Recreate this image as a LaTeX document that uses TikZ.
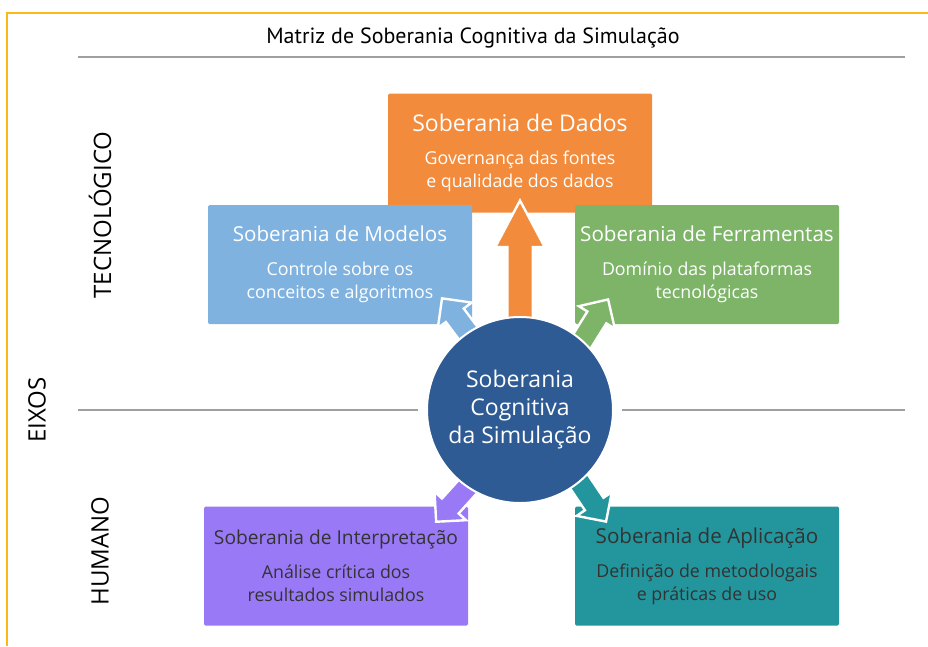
\documentclass[tikz,border=0pt]{standalone}
\usepackage{fontspec}
\setmainfont{Open Sans}
\newfontfamily\titlefont{PT Sans}
\usetikzlibrary{shapes.arrows}

\definecolor{corDados}{HTML}{F28B3B}
\definecolor{corModelos}{HTML}{7FB2DF}
\definecolor{corFerramentas}{HTML}{7DB468}
\definecolor{corInterp}{HTML}{9A79F7}
\definecolor{corAplic}{HTML}{23959D}
\definecolor{corCentro}{HTML}{2F5B95}
\definecolor{textoEscuro}{HTML}{333333}
\definecolor{moldura}{HTML}{FBB917}

\begin{document}
\begin{tikzpicture}[x=1pt, y=-1pt]

    \tikzset{%
    soberania/.style={
        rectangle,
        rounded corners=1.5pt,
        minimum width=264pt,
        minimum height=119pt,
        inner sep=0pt,
        align=center,
        text=white,
        font=\fontsize{17.8}{23}\selectfont
        },
    seta/.style={
        single arrow,
        draw=white,
        line width=2.4pt,
        inner sep=11.5pt,
        single arrow head extend=12pt,
        single arrow tip angle=56,
        anchor=tip,
        minimum height=#1
        },
    ponta curta/.style={
        inner sep=10pt,
        single arrow head extend=10pt,
        single arrow tip angle=90
        },
    eixo/.style={
        rotate=90,
        font=\fontsize{24}{28}\selectfont
        },
    divisoria/.style={draw=gray!75, line width=2pt},
    }

    \useasboundingbox (0,0) rectangle (928,646);

    % Frame and title
    \draw [moldura, line width=2pt] (7,646) -- (7,13) -- (928,13);
    \node [font=\titlefont\fontsize{22}{24}\selectfont] (titulo) at (473,38)
        {Matriz de Soberania Cognitiva da Simulação};
    \draw [divisoria] (78,57) -- (905,57);

    % Axis labels
    \node [eixo] (tecnologico) at (100,215) {TECNOLÓGICO};
    \node [eixo] (eixos) at (37,410) {EIXOS};
    \node [eixo] (humano) at (100,551) {HUMANO};

    % Dimension boxes
    \node [soberania, fill=corDados] (dados) at (520,153)
        {{\fontsize{23}{26}\selectfont Soberania de Dados}\\[10pt]
         Governança das fontes\\e qualidade dos dados};
    \node [soberania, fill=corModelos] (modelos) at (340,264.5)
        {{\fontsize{20.6}{24}\selectfont Soberania de Modelos}\\[11pt]
         Controle sobre os\\conceitos e algoritmos};
    \node [soberania, fill=corFerramentas] (ferramentas) at (707,264.5)
        {{\fontsize{20.6}{24}\selectfont Soberania de Ferramentas}\\[11pt]
         Domínio das plataformas\\tecnológicas};
    \node [soberania, fill=corInterp, text=textoEscuro] (interpretacao) at (336,566)
        {{\fontsize{19.2}{24}\selectfont Soberania de Interpretação}\\[11pt]
         Análise crítica dos\\resultados simulados};
    \node [soberania, fill=corAplic, text=textoEscuro] (aplicacao) at (707,566)
        {{\fontsize{20.6}{24}\selectfont Soberania de Aplicação}\\[11pt]
         Definição de metodologais\\e práticas de uso};

    % Block arrows out of the centre
    \node [seta=130, fill=corDados, rotate=90] (seta-dados) at (520,198) {};
    \node [seta=75, ponta curta, fill=corModelos, rotate=127] (seta-modelos) at (441,297) {};
    \node [seta=75, ponta curta, fill=corFerramentas, rotate=58] (seta-ferramentas) at (609,298) {};
    \node [seta=75, ponta curta, fill=corInterp, rotate=228] (seta-interpretacao) at (435,523) {};
    \node [seta=75, ponta curta, fill=corAplic, rotate=304] (seta-aplicacao) at (607,523) {};

    % Centre
    \node [circle, fill=corCentro, draw=white, line width=2pt, minimum size=186pt,
        text=white, align=center, font=\fontsize{23}{28}\selectfont] (centro) at (520,410)
        {Soberania\\Cognitiva\\da Simulação};

    % Axis divider
    \draw [divisoria] (78,410) -- ([xshift=-8pt]centro.west);
    \draw [divisoria] ([xshift=8pt]centro.east) -- (905,410);

\end{tikzpicture}
\end{document}
